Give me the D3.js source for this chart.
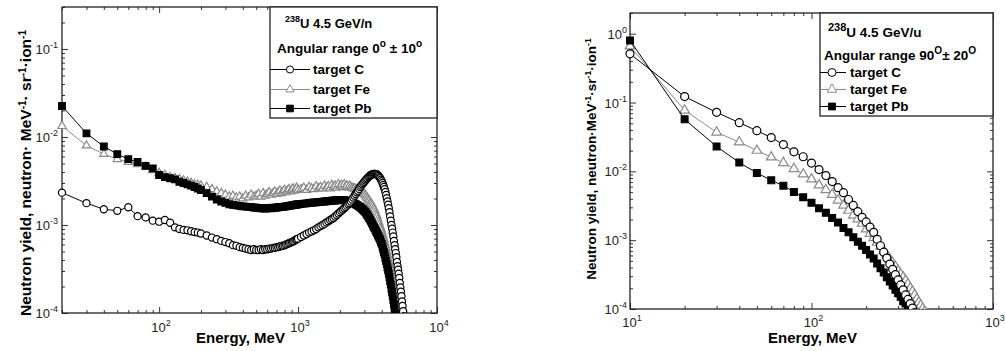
<!DOCTYPE html>
<html>
<head>
<meta charset="utf-8">
<script src="https://cdn.jsdelivr.net/npm/d3@7"></script>
<style>
  html, body { margin: 0; padding: 0; background: #fff; }
  svg { display: block; font-family: "Liberation Sans", Arial, sans-serif; }
</style>
</head>
<body>
<div id="chart"></div>
<script>
// ---- left panel: angular range 0 +/- 10 deg ----
const leftEnergy = [
  20, 30, 40, 50, 60, 70, 80, 90, 100, 110, 120, 130, 140, 150, 160, 170, 180, 190, 200,
  220, 240, 260, 280, 300, 320, 340, 360, 380, 400, 420, 440, 460, 480, 500, 520, 540, 560, 580, 600,
  620, 640, 660, 680, 700, 720, 740, 760, 780, 800, 820, 840, 860, 880, 900, 920, 940, 960, 980, 1000,
  1050, 1100, 1150, 1200, 1250, 1300, 1350, 1400, 1450, 1500,
  1550, 1600, 1650, 1700, 1750, 1800, 1850, 1900, 1950, 2000,
  2050, 2100, 2150, 2200, 2250, 2300, 2350, 2400, 2450, 2500,
  2550, 2600, 2650, 2700, 2750, 2800, 2850, 2900, 2950, 3000,
  3050, 3100, 3150, 3200, 3250, 3300, 3350, 3400, 3450, 3500,
  3550, 3600, 3650, 3700, 3750, 3800, 3850, 3900, 3950, 4000,
  4050, 4100, 4150, 4200, 4250, 4300, 4350, 4400, 4450, 4500,
  4550, 4600, 4650, 4700, 4750, 4800, 4850, 4900, 4950, 5000,
  5050, 5100, 5150, 5200, 5250, 5300, 5350, 5400, 5450, 5500,
  5550, 5600, 5650, 5700, 5750, 5800
];
const leftC = [
  2.33e-3, 1.77e-3, 1.51e-3, 1.45e-3, 1.59e-3, 1.26e-3, 1.22e-3, 1.12e-3, 1.09e-3, 1.14e-3, 1.06e-3, 9.4e-4, 9.0e-4, 8.8e-4, 8.7e-4, 8.5e-4, 8.3e-4, 8.2e-4, 8.0e-4,
  7.6e-4, 7.2e-4, 6.9e-4, 6.6e-4, 6.4e-4, 6.2e-4, 5.9e-4, 5.8e-4, 5.6e-4, 5.5e-4, 5.4e-4, 5.3e-4, 5.2e-4, 5.3e-4, 5.2e-4, 5.2e-4, 5.3e-4, 5.2e-4, 5.3e-4, 5.3e-4,
  5.4e-4, 5.4e-4, 5.5e-4, 5.5e-4, 5.6e-4, 5.6e-4, 5.7e-4, 5.8e-4, 5.8e-4, 5.9e-4, 6.0e-4, 6.1e-4, 6.2e-4, 6.3e-4, 6.4e-4, 6.5e-4, 6.6e-4, 6.8e-4, 6.9e-4, 7.0e-4,
  7.3e-4, 7.6e-4, 7.9e-4, 8.2e-4, 8.45e-4, 8.7e-4, 9.0e-4, 9.4e-4, 9.7e-4, 1.0e-3,
  1.035e-3, 1.07e-3, 1.1e-3, 1.14e-3, 1.17e-3, 1.2e-3, 1.25e-3, 1.3e-3, 1.35e-3, 1.4e-3,
  1.45e-3, 1.5e-3, 1.55e-3, 1.6e-3, 1.66e-3, 1.72e-3, 1.78e-3, 1.85e-3, 1.95e-3, 2.05e-3,
  2.15e-3, 2.25e-3, 2.35e-3, 2.45e-3, 2.57e-3, 2.7e-3, 2.8e-3, 2.9e-3, 3.0e-3, 3.1e-3,
  3.2e-3, 3.3e-3, 3.4e-3, 3.5e-3, 3.58e-3, 3.65e-3, 3.7e-3, 3.75e-3, 3.78e-3, 3.8e-3,
  3.81e-3, 3.8e-3, 3.78e-3, 3.75e-3, 3.68e-3, 3.6e-3, 3.5e-3, 3.4e-3, 3.28e-3, 3.15e-3,
  3.0e-3, 2.85e-3, 2.7e-3, 2.55e-3, 2.38e-3, 2.2e-3, 2.02e-3, 1.85e-3, 1.7e-3, 1.55e-3,
  1.4e-3, 1.25e-3, 1.12e-3, 1.0e-3, 9.1e-4, 8.2e-4, 7.4e-4, 6.6e-4, 5.9e-4, 5.3e-4,
  4.8e-4, 4.3e-4, 3.8e-4, 3.4e-4, 3.1e-4, 2.8e-4, 2.5e-4, 2.2e-4, 1.95e-4, 1.75e-4,
  1.55e-4, 1.35e-4, 1.2e-4, 1.05e-4, 9.2e-5, 8e-5
];
const leftFe = [
  1.33e-2, 8.0e-3, 6.4e-3, 5.6e-3, 5.2e-3, 4.9e-3, 4.6e-3, 4.2e-3, 3.9e-3, 3.7e-3, 3.5e-3, 3.4e-3, 3.3e-3, 3.2e-3, 3.1e-3, 3.0e-3, 2.9e-3, 2.85e-3, 2.8e-3,
  2.7e-3, 2.55e-3, 2.4e-3, 2.3e-3, 2.2e-3, 2.1e-3, 2.15e-3, 2.05e-3, 2.1e-3, 2.0e-3, 2.15e-3, 2.05e-3, 2.2e-3, 2.1e-3, 2.15e-3, 2.25e-3, 2.1e-3, 2.3e-3, 2.15e-3, 2.25e-3,
  2.35e-3, 2.2e-3, 2.3e-3, 2.4e-3, 2.25e-3, 2.35e-3, 2.45e-3, 2.3e-3, 2.4e-3, 2.5e-3, 2.35e-3, 2.45e-3, 2.55e-3, 2.4e-3, 2.5e-3, 2.6e-3, 2.45e-3, 2.55e-3, 2.65e-3, 2.5e-3,
  2.55e-3, 2.65e-3, 2.5e-3, 2.7e-3, 2.6e-3, 2.55e-3, 2.75e-3, 2.6e-3, 2.7e-3, 2.6e-3,
  2.8e-3, 2.65e-3, 2.75e-3, 2.6e-3, 2.85e-3, 2.7e-3, 2.8e-3, 2.65e-3, 2.9e-3, 2.75e-3,
  2.85e-3, 2.7e-3, 2.9e-3, 2.75e-3, 2.8e-3, 2.65e-3, 2.8e-3, 2.7e-3, 2.65e-3, 2.6e-3,
  2.6e-3, 2.55e-3, 2.55e-3, 2.5e-3, 2.45e-3, 2.4e-3, 2.38e-3, 2.35e-3, 2.3e-3, 2.25e-3,
  2.18e-3, 2.1e-3, 2.02e-3, 1.95e-3, 1.88e-3, 1.8e-3, 1.75e-3, 1.7e-3, 1.62e-3, 1.55e-3,
  1.48e-3, 1.4e-3, 1.32e-3, 1.25e-3, 1.16e-3, 1.08e-3, 1.01e-3, 9.5e-4, 9.0e-4, 8.5e-4,
  7.9e-4, 7.4e-4, 6.9e-4, 6.4e-4, 5.9e-4, 5.5e-4, 5.0e-4, 4.6e-4, 4.2e-4, 3.8e-4,
  3.5e-4, 3.2e-4, 2.95e-4, 2.7e-4, 2.45e-4, 2.2e-4, 2.0e-4, 1.8e-4, 1.62e-4, 1.45e-4,
  1.3e-4, 1.15e-4, 1.02e-4, 9e-5, null, null, null, null, null, null,
  null, null, null, null, null, null
];
const leftPb = [
  2.25e-2, 1.1e-2, 7.8e-3, 6.4e-3, 5.6e-3, 5.2e-3, 4.7e-3, 4.4e-3, 3.7e-3, 3.5e-3, 3.4e-3, 3.3e-3, 3.1e-3, 3.0e-3, 2.9e-3, 2.8e-3, 2.7e-3, 2.6e-3, 2.5e-3,
  2.3e-3, 2.1e-3, 1.95e-3, 1.85e-3, 1.78e-3, 1.72e-3, 1.69e-3, 1.67e-3, 1.65e-3, 1.63e-3, 1.62e-3, 1.61e-3, 1.6e-3, 1.58e-3, 1.57e-3, 1.56e-3, 1.55e-3, 1.55e-3, 1.54e-3, 1.55e-3,
  1.56e-3, 1.55e-3, 1.57e-3, 1.56e-3, 1.58e-3, 1.59e-3, 1.6e-3, 1.6e-3, 1.61e-3, 1.62e-3, 1.63e-3, 1.64e-3, 1.65e-3, 1.66e-3, 1.67e-3, 1.68e-3, 1.69e-3, 1.7e-3, 1.71e-3, 1.72e-3,
  1.73e-3, 1.75e-3, 1.76e-3, 1.78e-3, 1.79e-3, 1.8e-3, 1.81e-3, 1.82e-3, 1.83e-3, 1.84e-3,
  1.85e-3, 1.86e-3, 1.87e-3, 1.88e-3, 1.89e-3, 1.9e-3, 1.9e-3, 1.91e-3, 1.92e-3, 1.92e-3,
  1.92e-3, 1.92e-3, 1.91e-3, 1.9e-3, 1.88e-3, 1.86e-3, 1.84e-3, 1.82e-3, 1.8e-3, 1.77e-3,
  1.75e-3, 1.72e-3, 1.69e-3, 1.66e-3, 1.63e-3, 1.6e-3, 1.56e-3, 1.52e-3, 1.48e-3, 1.44e-3,
  1.4e-3, 1.35e-3, 1.3e-3, 1.25e-3, 1.2e-3, 1.15e-3, 1.1e-3, 1.05e-3, 1.0e-3, 9.5e-4,
  9.2e-4, 8.8e-4, 8.4e-4, 8.1e-4, 7.7e-4, 7.4e-4, 7.1e-4, 6.8e-4, 6.4e-4, 6.1e-4,
  5.7e-4, 5.3e-4, 4.9e-4, 4.6e-4, 4.2e-4, 3.9e-4, 3.6e-4, 3.3e-4, 3.05e-4, 2.8e-4,
  2.55e-4, 2.3e-4, 2.1e-4, 1.9e-4, 1.72e-4, 1.55e-4, 1.4e-4, 1.25e-4, 1.12e-4, 1.0e-4,
  9e-5, 8e-5, null, null, null, null, null, null, null, null,
  null, null, null, null, null, null
];

// ---- right panel: angular range 90 +/- 20 deg ----
const rightEnergy = [
  10, 20, 30, 40, 50, 60, 70, 80, 90, 100, 110, 120, 130, 140, 150, 160, 170, 180, 190, 200,
  210, 220, 230, 240, 250, 260, 270, 280, 290, 300, 310, 320, 330, 340, 350, 360, 370, 380, 390, 400,
  410, 420
];
const rightC = [
  0.51, 0.122, 0.072, 0.051, 0.039, 0.031, 0.0245, 0.0192, 0.0163, 0.0132, 0.0106, 0.0087, 0.0071, 0.0058, 0.0049, 0.0039, 0.0032, 0.0026, 0.00215, 0.00184,
  0.00155, 0.0013, 0.00103, 0.00083, 0.00067, 0.00055, 0.00045, 0.000377, 0.000315, 0.000265, 0.000224, 0.00019, 0.00016, 0.000138, 0.00012, 0.000103, 0.000089, null, null, null,
  null, null
];
const rightFe = [
  0.66, 0.077, 0.037, 0.0266, 0.0201, 0.0161, 0.0133, 0.0109, 0.0091, 0.0077, 0.0063, 0.0054, 0.0046, 0.0038, 0.0032, 0.0027, 0.0023, 0.00203, 0.00175, 0.00145,
  0.00125, 0.00108, 0.00093, 0.00081, 0.0007, 0.00061, 0.00053, 0.00047, 0.00041, 0.00036, 0.00032, 0.00029, 0.00026, 0.00023, 0.0002, 0.00018, 0.00016, 0.00014, 0.000125, 0.000113,
  0.000102, 0.000092
];
const rightPb = [
  0.80, 0.057, 0.023, 0.0134, 0.0095, 0.0074, 0.0062, 0.005, 0.0042, 0.0035, 0.0029, 0.0025, 0.0021, 0.0018, 0.0015, 0.0013, 0.0011, 0.00095, 0.00083, 0.00072,
  0.00062, 0.00054, 0.00046, 0.00039, 0.00034, 0.00029, 0.00025, 0.00022, 0.00019, 0.00017, 0.00015, 0.00013, 0.00012, 0.000108, 0.000098, null, null, null, null, null,
  null, null
];

const FE_GREY = '#8a8a8a';

// marker sizes per panel: [triangle, square, circle]
const series = (energy, c, fe, pb, sz) => [
  { name: 'target Fe', values: fe, energy, symbol: d3.symbolTriangle, size: sz[0], stroke: FE_GREY, fill: '#fff', line: FE_GREY },
  { name: 'target Pb', values: pb, energy, symbol: d3.symbolSquare, size: sz[1], stroke: '#000', fill: '#000', line: '#000' },
  { name: 'target C', values: c, energy, symbol: d3.symbolCircle, size: sz[2], stroke: '#000', fill: '#fff', line: '#000' }
];

const svg = d3.select('#chart').append('svg')
  .attr('width', 1005)
  .attr('height', 351);

// parts: [text, sup, text, sup, ...]
function supText(sel, parts, supSize, shift) {
  parts.forEach((p, i) => {
    if (!p) return;
    const isSup = i % 2 === 1;
    sel.append('tspan')
      .attr('dy', isSup ? -shift : (i > 0 && parts[i - 1] ? shift : 0))
      .attr('font-size', isSup ? supSize : null)
      .text(p);
  });
  return sel;
}

function drawPanel(cfg) {
  const g = svg.append('g').attr('transform', `translate(${cfg.left},${cfg.top})`);
  const w = cfg.width, h = cfg.height;
  const x = d3.scaleLog().domain(cfg.xDomain).range([0, w]);
  const y = d3.scaleLog().domain(cfg.yDomain).range([h, 0]);

  const isMajor = v => Math.abs(Math.log10(v) - Math.round(Math.log10(v))) < 1e-9;
  const xt = x.ticks().filter(v => v >= cfg.xDomain[0] && v <= cfg.xDomain[1]);
  const yt = y.ticks().filter(v => v >= cfg.yDomain[0] && v <= cfg.yDomain[1]);

  // inward ticks on all four sides
  const tickAxes = [
    [d3.axisBottom(x), `translate(0,${h})`, xt],
    [d3.axisTop(x), 'translate(0,0)', xt],
    [d3.axisLeft(y), 'translate(0,0)', yt],
    [d3.axisRight(y), `translate(${w},0)`, yt]
  ];
  tickAxes.forEach(([ax, tr, vals]) => {
    [false, true].forEach(major => {
      g.append('g')
        .attr('transform', tr)
        .call(ax.tickValues(vals.filter(v => isMajor(v) === major)).tickSize(major ? -6 : -3).tickFormat(''))
        .call(s => s.select('.domain').remove())
        .call(s => s.selectAll('line').attr('stroke', '#333').attr('stroke-width', 1));
    });
  });

  // frame
  g.append('rect')
    .attr('width', w).attr('height', h)
    .attr('fill', 'none').attr('stroke', '#222').attr('stroke-width', 1.3);

  // tick labels
  xt.filter(isMajor).forEach(v => {
    const t = g.append('text')
      .attr('x', x(v) + 2).attr('y', h + cfg.xLabelDy)
      .attr('text-anchor', 'middle')
      .attr('font-size', 13).attr('fill', '#222');
    supText(t, ['10', String(Math.round(Math.log10(v)))], 9, 6);
  });
  yt.filter(isMajor).forEach(v => {
    const t = g.append('text')
      .attr('x', cfg.yLabelDx).attr('y', y(v) + 5)
      .attr('text-anchor', 'end')
      .attr('font-size', 13).attr('fill', '#222');
    supText(t, ['10', String(Math.round(Math.log10(v)))], 9, 6);
  });

  // axis titles
  g.append('text')
    .attr('x', w / 2 + cfg.xTitleDx).attr('y', h + cfg.xTitleDy)
    .attr('text-anchor', 'middle')
    .attr('font-size', 15).attr('font-weight', 'bold')
    .text('Energy, MeV');

  const yTitle = g.append('text')
    .attr('transform', `translate(${cfg.yTitleX},${cfg.yTitleY}) rotate(-90)`)
    .attr('text-anchor', 'middle')
    .attr('font-size', cfg.yTitleSize).attr('font-weight', 'bold');
  supText(yTitle, cfg.yTitleParts, cfg.yTitleSize * 0.65, 5);

  // data
  const clipId = 'clip-' + cfg.id;
  g.append('clipPath').attr('id', clipId)
    .append('rect').attr('x', -8).attr('y', -8).attr('width', w + 16).attr('height', h + 8);
  const plot = g.append('g').attr('clip-path', `url(#${clipId})`);

  const line = d3.line()
    .defined(d => d.v != null)
    .x(d => x(d.e)).y(d => y(d.v));

  cfg.series.forEach(s => {
    const pts = s.energy.map((e, i) => ({ e, v: s.values[i] }));
    const sg = plot.append('g');
    sg.append('path')
      .datum(pts)
      .attr('d', line)
      .attr('fill', 'none')
      .attr('stroke', s.line)
      .attr('stroke-width', 1);
    sg.selectAll('path.mk')
      .data(pts.filter(d => d.v != null))
      .join('path')
      .attr('class', 'mk')
      .attr('transform', d => `translate(${x(d.e)},${y(d.v)})`)
      .attr('d', d3.symbol().type(s.symbol).size(s.size))
      .attr('fill', s.fill)
      .attr('stroke', s.stroke)
      .attr('stroke-width', 1.2);
  });

  // legend box sits in the top-right corner of the frame
  const L = cfg.legend;
  const lg = g.append('g').attr('transform', `translate(${L.x},0)`);
  lg.append('rect')
    .attr('width', w - L.x).attr('height', L.h)
    .attr('fill', '#fff').attr('stroke', '#222').attr('stroke-width', 1.3);
  const t1 = lg.append('text')
    .attr('x', L.titleX).attr('y', L.rows[0])
    .attr('font-size', L.titleFont).attr('font-weight', 'bold');
  supText(t1, ['', '238', 'U 4.5 GeV/' + L.unit], L.supSize, 6);
  const t2 = lg.append('text')
    .attr('x', L.angX).attr('y', L.rows[1])
    .attr('font-size', L.font).attr('font-weight', 'bold');
  supText(t2, L.angle, L.font * 0.75, 6);

  ['target C', 'target Fe', 'target Pb'].forEach((name, i) => {
    const s = cfg.series.find(d => d.name === name);
    const yy = L.rows[i + 2] - 4.5;
    lg.append('line')
      .attr('x1', 0).attr('x2', L.lineEnd)
      .attr('y1', yy).attr('y2', yy)
      .attr('stroke', s.line).attr('stroke-width', 1);
    lg.append('path')
      .attr('transform', `translate(${L.markX},${yy})`)
      .attr('d', d3.symbol().type(s.symbol).size(s.size))
      .attr('fill', s.fill).attr('stroke', s.stroke);
    lg.append('text')
      .attr('x', L.textX).attr('y', L.rows[i + 2])
      .attr('font-size', L.font).attr('font-weight', 'bold')
      .text(name);
  });
}

drawPanel({
  id: 'left', left: 62, top: 7, width: 375, height: 306,
  xDomain: [20, 1e4], yDomain: [1e-4, 0.3],
  xLabelDy: 19, yLabelDx: -4,
  xTitleDx: -9, xTitleDy: 30,
  yTitleX: -31, yTitleY: 166, yTitleSize: 15.5,
  yTitleParts: ['Neutron yield, neutron\u00b7 MeV', '-1', '\u00b7 sr', '-1', '\u00b7ion', '-1'],
  series: series(leftEnergy, leftC, leftFe, leftPb, [30, 44, 40]),
  legend: {
    x: 208, h: 111, font: 13.5, titleFont: 13, supSize: 9, unit: 'n',
    titleX: 15, angX: 7, rows: [21, 46, 67, 87, 106],
    lineEnd: 40, markX: 20, textX: 43,
    angle: ['Angular range 0', 'o', ' \u00b1 10', 'o']
  }
});

drawPanel({
  id: 'right', left: 630, top: 13, width: 363, height: 296,
  xDomain: [10, 1e3], yDomain: [1e-4, 2],
  xLabelDy: 18, yLabelDx: -3,
  xTitleDx: 1, xTitleDy: 34,
  yTitleX: -34, yTitleY: 146, yTitleSize: 13.5,
  yTitleParts: ['Neutron yield, neutron\u00b7MeV', '-1', '\u00b7sr', '-1', '\u00b7ion', '-1'],
  series: series(rightEnergy, rightC, rightFe, rightPb, [40, 46, 50]),
  legend: {
    x: 190, h: 103, font: 13.5, titleFont: 13.5, supSize: 11, unit: 'u',
    titleX: 8, angX: 4, rows: [24, 47, 64, 81, 98],
    lineEnd: 26, markX: 12, textX: 30,
    angle: ['Angular range 90', 'O', '\u00b1 20', 'O']
  }
});
</script>
</body>
</html>
